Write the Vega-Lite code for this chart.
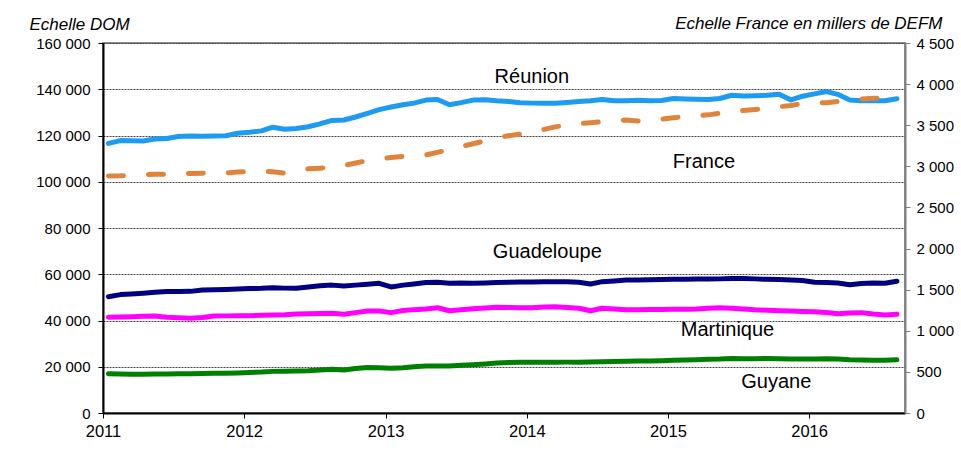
{
  "$schema": "https://vega.github.io/schema/vega-lite/v6.json",
  "width": 802,
  "height": 370,
  "autosize": {"type": "none"},
  "padding": {"left": 103, "top": 43, "right": 56, "bottom": 52},
  "background": "white",
  "config": {
    "font": "Liberation Sans",
    "locale": {"number": {"decimal": ",", "thousands": " ", "grouping": [3], "currency": ["", " €"]}},
    "view": {"stroke": "#8c8c8c", "strokeWidth": 2},
    "axis": {"labelFont": "Liberation Sans", "labelFontSize": 15, "labelColor": "#000", "tickSize": 5, "titleFont": "Liberation Sans", "titleColor": "#000"},
    "axisX": {"labelFontSize": 16.5},
    "axisTemporal": {"labelFontSize": 16.5}
  },
  "datasets": {
    "series": [
      {"d": "2011-01-15", "reu": 116600, "fra": 2882, "gua": 50300, "mar": 41400, "guy": 17000},
      {"d": "2011-02-15", "reu": 117800, "fra": 2884, "gua": 51200, "mar": 41500, "guy": 16900},
      {"d": "2011-03-15", "reu": 117700, "fra": 2890, "gua": 51500, "mar": 41600, "guy": 16800},
      {"d": "2011-04-15", "reu": 117600, "fra": 2900, "gua": 51800, "mar": 41800, "guy": 16800},
      {"d": "2011-05-15", "reu": 118500, "fra": 2903, "gua": 52200, "mar": 41900, "guy": 16900},
      {"d": "2011-06-15", "reu": 118700, "fra": 2903, "gua": 52500, "mar": 41400, "guy": 16900},
      {"d": "2011-07-15", "reu": 119600, "fra": 2908, "gua": 52500, "mar": 41200, "guy": 17000},
      {"d": "2011-08-15", "reu": 119800, "fra": 2914, "gua": 52600, "mar": 41000, "guy": 17000},
      {"d": "2011-09-15", "reu": 119700, "fra": 2915, "gua": 53200, "mar": 41300, "guy": 17100},
      {"d": "2011-10-15", "reu": 119800, "fra": 2916, "gua": 53300, "mar": 41900, "guy": 17200},
      {"d": "2011-11-15", "reu": 119900, "fra": 2920, "gua": 53400, "mar": 42000, "guy": 17200},
      {"d": "2011-12-15", "reu": 121000, "fra": 2930, "gua": 53600, "mar": 42100, "guy": 17300},
      {"d": "2012-01-15", "reu": 121400, "fra": 2936, "gua": 53800, "mar": 42100, "guy": 17500},
      {"d": "2012-02-15", "reu": 122000, "fra": 2938, "gua": 53900, "mar": 42300, "guy": 17700},
      {"d": "2012-03-15", "reu": 123600, "fra": 2935, "gua": 54200, "mar": 42400, "guy": 18000},
      {"d": "2012-04-15", "reu": 122700, "fra": 2918, "gua": 54000, "mar": 42500, "guy": 18100},
      {"d": "2012-05-15", "reu": 123000, "fra": 2935, "gua": 53900, "mar": 42800, "guy": 18200},
      {"d": "2012-06-15", "reu": 123800, "fra": 2970, "gua": 54500, "mar": 42900, "guy": 18300},
      {"d": "2012-07-15", "reu": 125000, "fra": 2978, "gua": 55000, "mar": 43000, "guy": 18600},
      {"d": "2012-08-15", "reu": 126500, "fra": 2986, "gua": 55300, "mar": 43100, "guy": 18900},
      {"d": "2012-09-15", "reu": 126700, "fra": 3010, "gua": 54900, "mar": 42700, "guy": 18600},
      {"d": "2012-10-15", "reu": 128000, "fra": 3040, "gua": 55300, "mar": 43400, "guy": 19200},
      {"d": "2012-11-15", "reu": 129600, "fra": 3070, "gua": 55700, "mar": 44100, "guy": 19700},
      {"d": "2012-12-15", "reu": 131200, "fra": 3092, "gua": 56100, "mar": 44100, "guy": 19600},
      {"d": "2013-01-15", "reu": 132300, "fra": 3107, "gua": 54500, "mar": 43400, "guy": 19300},
      {"d": "2013-02-15", "reu": 133300, "fra": 3120, "gua": 55300, "mar": 44300, "guy": 19600},
      {"d": "2013-03-15", "reu": 134000, "fra": 3128, "gua": 55800, "mar": 44700, "guy": 20000},
      {"d": "2013-04-15", "reu": 135300, "fra": 3138, "gua": 56400, "mar": 45000, "guy": 20300},
      {"d": "2013-05-15", "reu": 135600, "fra": 3170, "gua": 56500, "mar": 45500, "guy": 20300},
      {"d": "2013-06-15", "reu": 133300, "fra": 3205, "gua": 56100, "mar": 44200, "guy": 20300},
      {"d": "2013-07-15", "reu": 134200, "fra": 3240, "gua": 56200, "mar": 44600, "guy": 20600},
      {"d": "2013-08-15", "reu": 135300, "fra": 3275, "gua": 56100, "mar": 45100, "guy": 20900},
      {"d": "2013-09-15", "reu": 135500, "fra": 3310, "gua": 56200, "mar": 45400, "guy": 21200},
      {"d": "2013-10-15", "reu": 135000, "fra": 3350, "gua": 56400, "mar": 45700, "guy": 21600},
      {"d": "2013-11-15", "reu": 134700, "fra": 3372, "gua": 56500, "mar": 45600, "guy": 21800},
      {"d": "2013-12-15", "reu": 134200, "fra": 3392, "gua": 56600, "mar": 45500, "guy": 21900},
      {"d": "2014-01-15", "reu": 134000, "fra": 3410, "gua": 56700, "mar": 45500, "guy": 22000},
      {"d": "2014-02-15", "reu": 133900, "fra": 3450, "gua": 56800, "mar": 45800, "guy": 21900},
      {"d": "2014-03-15", "reu": 133900, "fra": 3480, "gua": 56800, "mar": 45900, "guy": 21900},
      {"d": "2014-04-15", "reu": 134300, "fra": 3500, "gua": 56800, "mar": 45600, "guy": 22000},
      {"d": "2014-05-15", "reu": 134700, "fra": 3520, "gua": 56500, "mar": 45300, "guy": 22000},
      {"d": "2014-06-15", "reu": 135000, "fra": 3530, "gua": 55800, "mar": 44200, "guy": 22100},
      {"d": "2014-07-15", "reu": 135600, "fra": 3542, "gua": 56800, "mar": 45300, "guy": 22200},
      {"d": "2014-08-15", "reu": 135000, "fra": 3555, "gua": 57100, "mar": 45000, "guy": 22300},
      {"d": "2014-09-15", "reu": 135000, "fra": 3564, "gua": 57500, "mar": 44600, "guy": 22400},
      {"d": "2014-10-15", "reu": 135200, "fra": 3552, "gua": 57500, "mar": 44600, "guy": 22500},
      {"d": "2014-11-15", "reu": 135000, "fra": 3560, "gua": 57600, "mar": 44800, "guy": 22500},
      {"d": "2014-12-15", "reu": 135100, "fra": 3572, "gua": 57700, "mar": 44800, "guy": 22600},
      {"d": "2015-01-15", "reu": 136000, "fra": 3590, "gua": 57800, "mar": 44900, "guy": 22800},
      {"d": "2015-02-15", "reu": 135800, "fra": 3604, "gua": 57800, "mar": 44900, "guy": 22900},
      {"d": "2015-03-15", "reu": 135700, "fra": 3615, "gua": 57900, "mar": 45000, "guy": 23000},
      {"d": "2015-04-15", "reu": 135600, "fra": 3626, "gua": 57900, "mar": 45300, "guy": 23200},
      {"d": "2015-05-15", "reu": 136000, "fra": 3645, "gua": 58000, "mar": 45500, "guy": 23300},
      {"d": "2015-06-15", "reu": 137400, "fra": 3660, "gua": 58200, "mar": 45300, "guy": 23600},
      {"d": "2015-07-15", "reu": 137100, "fra": 3680, "gua": 58200, "mar": 45000, "guy": 23500},
      {"d": "2015-08-15", "reu": 137200, "fra": 3692, "gua": 58000, "mar": 44600, "guy": 23500},
      {"d": "2015-09-15", "reu": 137400, "fra": 3705, "gua": 57800, "mar": 44400, "guy": 23600},
      {"d": "2015-10-15", "reu": 137800, "fra": 3725, "gua": 57700, "mar": 44200, "guy": 23500},
      {"d": "2015-11-15", "reu": 135400, "fra": 3740, "gua": 57500, "mar": 44100, "guy": 23400},
      {"d": "2015-12-15", "reu": 137000, "fra": 3765, "gua": 57300, "mar": 43900, "guy": 23300},
      {"d": "2016-01-15", "reu": 138000, "fra": 3770, "gua": 56500, "mar": 43800, "guy": 23400},
      {"d": "2016-02-15", "reu": 139000, "fra": 3774, "gua": 56400, "mar": 43500, "guy": 23500},
      {"d": "2016-03-15", "reu": 137800, "fra": 3790, "gua": 56200, "mar": 42900, "guy": 23400},
      {"d": "2016-04-15", "reu": 135300, "fra": 3805, "gua": 55500, "mar": 43200, "guy": 23000},
      {"d": "2016-05-15", "reu": 135000, "fra": 3820, "gua": 56000, "mar": 43400, "guy": 22900},
      {"d": "2016-06-15", "reu": 135000, "fra": 3827, "gua": 56200, "mar": 42800, "guy": 22800},
      {"d": "2016-07-15", "reu": 135000, "fra": 3827, "gua": 56100, "mar": 42400, "guy": 22800},
      {"d": "2016-08-15", "reu": 135900, "fra": 3830, "gua": 57000, "mar": 42700, "guy": 23000}
    ],
    "labels": [
      {"d": "2014-01-14", "val": 142800, "t": "Réunion"},
      {"d": "2015-04-04", "val": 105800, "t": "France"},
      {"d": "2014-02-23", "val": 66900, "t": "Guadeloupe"},
      {"d": "2015-06-04", "val": 33500, "t": "Martinique"},
      {"d": "2015-10-08", "val": 10700, "t": "Guyane"}
    ]
  },
  "data": {"name": "series"},
  "layer": [
    {
      "layer": [
        {
          "transform": [{"fold": ["reu", "gua", "mar", "guy"], "as": ["serie", "val"]}],
          "mark": {"type": "line", "strokeWidth": 5, "strokeCap": "round", "strokeJoin": "round"},
          "encoding": {
            "x": {
              "field": "d", "type": "temporal",
              "scale": {"type": "utc", "domain": [{"year": 2011, "month": 1, "date": 1, "utc": true}, {"year": 2016, "month": 9, "date": 5, "utc": true}]},
              "axis": {
                "title": null, "format": "%Y", "formatType": "utc",
                "values": [
                  {"year": 2011, "month": 1, "date": 1, "utc": true},
                  {"year": 2012, "month": 1, "date": 1, "utc": true},
                  {"year": 2013, "month": 1, "date": 1, "utc": true},
                  {"year": 2014, "month": 1, "date": 1, "utc": true},
                  {"year": 2015, "month": 1, "date": 1, "utc": true},
                  {"year": 2016, "month": 1, "date": 1, "utc": true}
                ],
                "labelFontSize": 16.5, "labelFontWeight": "normal", "labelFont": "Liberation Sans",
                "grid": false, "domainColor": "#000", "domainWidth": 2, "tickColor": "#000", "tickWidth": 1, "labelPadding": 5, "labelFlush": false
              }
            },
            "y": {
              "field": "val", "type": "quantitative",
              "scale": {"domain": [0, 160000], "nice": false, "zero": true},
              "axis": {
                "title": "Echelle DOM", "titleFontStyle": "italic", "titleFontWeight": "normal", "titleFontSize": 17,
                "titleAngle": 0, "titleAlign": "left", "titleBaseline": "alphabetic", "titleX": -74, "titleY": -14,
                "values": [0, 20000, 40000, 60000, 80000, 100000, 120000, 140000, 160000],
                "format": ",d", "grid": true, "gridDash": [2, 1], "gridColor": "#444", "gridWidth": 1,
                "domainColor": "#000", "domainWidth": 2, "tickColor": "#000", "tickWidth": 1, "labelPadding": 8
              }
            },
            "color": {
              "field": "serie", "type": "nominal",
              "scale": {"domain": ["reu", "gua", "mar", "guy"], "range": ["#1C9BF0", "#000080", "#FF00FF", "#008000"]},
              "legend": null
            }
          }
        },
        {
          "data": {"name": "labels"},
          "mark": {"type": "text", "fontSize": 20, "align": "center", "baseline": "alphabetic", "color": "#000", "font": "Liberation Sans"},
          "encoding": {
            "x": {"field": "d", "type": "temporal"},
            "y": {"field": "val", "type": "quantitative"},
            "text": {"field": "t"}
          }
        }
      ]
    },
    {
      "mark": {"type": "line", "color": "#E0843C", "strokeWidth": 5, "strokeDash": [15, 25], "strokeCap": "round"},
      "encoding": {
        "x": {"field": "d", "type": "temporal"},
        "y": {
          "field": "fra", "type": "quantitative",
          "scale": {"domain": [0, 4500], "nice": false},
          "axis": {
            "orient": "right", "title": "Echelle France en millers de DEFM", "titleFontStyle": "italic", "titleFontWeight": "normal", "titleFontSize": 17,
            "titleAngle": 0, "titleAlign": "right", "titleBaseline": "alphabetic", "titleX": 37, "titleY": -15,
            "values": [0, 500, 1000, 1500, 2000, 2500, 3000, 3500, 4000, 4500],
            "format": ",d", "grid": false, "domainColor": "#808080", "domainWidth": 2, "tickColor": "#808080", "tickWidth": 1, "labelPadding": 6
          }
        }
      }
    }
  ],
  "resolve": {"scale": {"y": "independent"}}
}
